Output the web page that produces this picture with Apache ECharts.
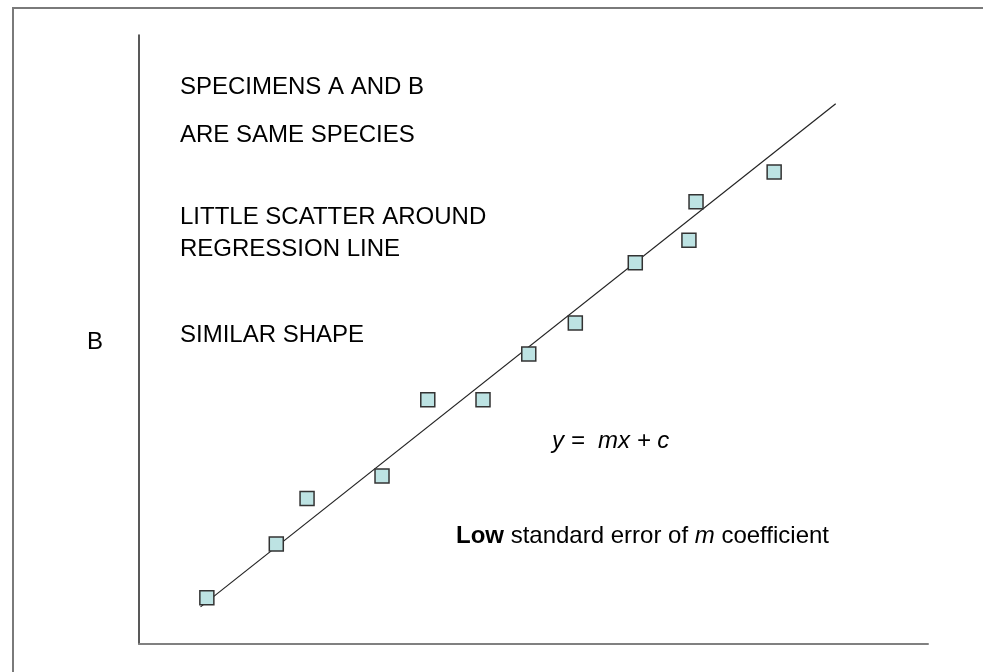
<!DOCTYPE html>
<html>
<head>
<meta charset="utf-8">
<script src="https://cdn.jsdelivr.net/npm/echarts@6/dist/echarts.min.js"></script>
<style>
html,body{margin:0;padding:0;background:#fff;}
#chart{width:983px;height:672px;}
</style>
</head>
<body>
<div id="chart"></div>
<script>
// Scatter points (arbitrary units, x and y 0-100)
var pointsX = [8.6, 17.4, 21.3, 30.8, 36.6, 43.6, 49.4, 55.3, 62.9, 69.7, 70.6, 80.5];
var pointsY = [7.6, 16.4, 23.9, 27.6, 40.1, 40.1, 47.6, 52.7, 62.6, 66.3, 72.6, 77.5];
// Regression line end points
var lineX = [7.8, 88.3];
var lineY = [6.1, 88.7];
var yAxisLabel = 'B';
var notes = ['SPECIMENS A AND B', 'ARE SAME SPECIES', 'LITTLE SCATTER AROUND', 'REGRESSION LINE', 'SIMILAR SHAPE'];

var scatterData = pointsX.map(function (x, i) { return [x, pointsY[i]]; });
var lineData = lineX.map(function (x, i) { return [x, lineY[i]]; });

var FONT = '"Liberation Sans", Arial, sans-serif';
var FS = 24;
var chart = echarts.init(document.getElementById('chart'));
var noteY = [87, 135, 217, 249, 335];
var graphics = [
  { type: 'rect', shape: { x: 13, y: 8, width: 1000, height: 700 }, style: { fill: 'none', stroke: '#7a7a7a', lineWidth: 2 }, silent: true }
];
notes.forEach(function (n, i) {
  graphics.push({ type: 'text', x: 180, y: noteY[i], style: { text: n, fill: '#000', font: FS + 'px ' + FONT, textVerticalAlign: 'middle' } });
});
graphics.push({ type: 'text', x: 87, y: 342, style: { text: yAxisLabel, fill: '#000', font: FS + 'px ' + FONT, textVerticalAlign: 'middle' } });
graphics.push({ type: 'text', x: 552, y: 441, style: { text: 'y =  mx + c', fill: '#000', font: 'italic ' + FS + 'px ' + FONT, textVerticalAlign: 'middle' } });
graphics.push({ type: 'text', x: 456, y: 536, style: {
  text: '{b|Low} standard error of {i|m} coefficient',
  fill: '#000', font: FS + 'px ' + FONT, textVerticalAlign: 'middle',
  rich: {
    b: { fontWeight: 'bold', fontSize: FS, fontFamily: FONT },
    i: { fontStyle: 'italic', fontSize: FS, fontFamily: FONT }
  }
} });

chart.setOption({
  animation: false,
  backgroundColor: '#fff',
  grid: { left: 139, top: 35, right: 55, bottom: 28, containLabel: false },
  xAxis: {
    type: 'value', min: 0, max: 100,
    axisLine: { show: true, onZero: false, lineStyle: { color: '#808080', width: 2 } },
    axisTick: { show: false }, axisLabel: { show: false }, splitLine: { show: false }
  },
  yAxis: {
    type: 'value', min: 0, max: 100,
    axisLine: { show: true, onZero: false, lineStyle: { color: '#222', width: 1.5 } },
    axisTick: { show: false }, axisLabel: { show: false }, splitLine: { show: false }
  },
  graphic: graphics,
  series: [
    {
      type: 'line', data: lineData, symbol: 'none',
      lineStyle: { color: '#222', width: 1.2 }, z: 2
    },
    {
      type: 'scatter', data: scatterData, symbol: 'rect', symbolSize: 14,
      itemStyle: { color: '#bde3e3', borderColor: '#333', borderWidth: 1.5, opacity: 1 }, z: 3
    }
  ]
});
</script>
</body>
</html>
